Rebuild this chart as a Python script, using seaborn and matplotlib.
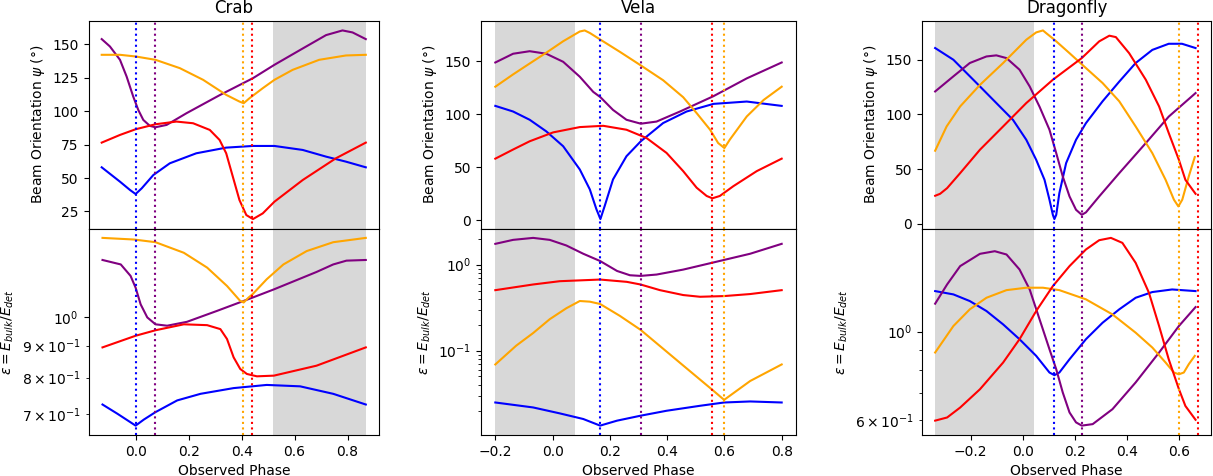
import matplotlib
matplotlib.use('Agg')
import matplotlib.pyplot as plt
import pandas as pd
import seaborn as sns

# (phase, value) pairs, one list per curve
# ---- Crab ----
crab_psi_blue = [(-0.128, 58), (-0.059, 47.25), (-0.021, 41), (0.0, 38), (0.023, 42.25),
                 (0.067, 52.25), (0.129, 61), (0.229, 68.5), (0.342, 72.75), (0.443, 74),
                 (0.524, 74), (0.631, 71), (0.719, 66), (0.794, 62.25), (0.869, 58)]
crab_psi_purple = [(-0.128, 154), (-0.097, 148.5), (-0.059, 138.5), (-0.034, 126), (-0.009, 111),
                   (0.01, 101), (0.029, 93.5), (0.054, 89), (0.075, 88), (0.117, 89.75),
                   (0.192, 98.5), (0.317, 112), (0.443, 124.75), (0.524, 134.75), (0.631, 147),
                   (0.719, 157), (0.781, 160.5), (0.819, 159), (0.869, 154)]
crab_psi_orange = [(-0.128, 142.25), (-0.059, 142.25), (0.0, 141), (0.075, 138.5), (0.167, 132.25),
                   (0.255, 123.5), (0.342, 112.25), (0.392, 107.25), (0.408, 106), (0.43, 109.75),
                   (0.48, 117.25), (0.524, 123.5), (0.593, 131), (0.693, 138.5), (0.794, 141.75),
                   (0.869, 142.25)]
crab_psi_red = [(-0.128, 76.5), (-0.059, 82.25), (0.0, 86.5), (0.075, 90.25), (0.154, 92.25),
                (0.217, 91), (0.28, 86), (0.317, 78.5), (0.342, 68.5), (0.367, 51), (0.392, 33.5),
                (0.418, 22.25), (0.443, 19.25), (0.48, 23.5), (0.524, 32.25), (0.631, 48.5),
                (0.756, 64.75), (0.869, 76.5)]
crab_eps_blue = [(-0.125, 0.725), (-0.069, 0.701), (0.0, 0.671), (0.031, 0.686), (0.075, 0.705),
                 (0.157, 0.736), (0.245, 0.754), (0.37, 0.77), (0.495, 0.779), (0.621, 0.775),
                 (0.746, 0.754), (0.869, 0.725)]
crab_eps_purple = [(-0.125, 1.232), (-0.056, 1.212), (-0.019, 1.162), (0.0, 1.113), (0.019, 1.047),
                   (0.044, 0.998), (0.075, 0.973), (0.119, 0.968), (0.194, 0.982), (0.307, 1.022),
                   (0.441, 1.073), (0.522, 1.106), (0.683, 1.179), (0.746, 1.212), (0.796, 1.229),
                   (0.869, 1.232)]
crab_eps_orange = [(-0.125, 1.336), (-0.006, 1.328), (0.075, 1.315), (0.182, 1.265), (0.27, 1.198),
                   (0.345, 1.12), (0.395, 1.06), (0.408, 1.054), (0.426, 1.073), (0.441, 1.086),
                   (0.495, 1.148), (0.558, 1.212), (0.646, 1.273), (0.746, 1.315), (0.869, 1.336)]
crab_eps_red = [(-0.125, 0.894), (0.0, 0.933), (0.075, 0.952), (0.182, 0.973), (0.27, 0.970),
                (0.32, 0.956), (0.345, 0.922), (0.37, 0.862), (0.395, 0.826), (0.42, 0.811),
                (0.458, 0.804), (0.522, 0.806), (0.683, 0.836), (0.869, 0.894)]
crab_marks = [0.0, 0.075, 0.407, 0.441]      # blue, purple, orange, red
crab_shade = (0.52, 0.869)

# ---- Vela ----
vela_psi_blue = [(-0.2, 107.8), (-0.138, 102.5), (-0.08, 94.7), (-0.022, 83.75), (0.037, 69.7),
                 (0.095, 47.8), (0.13, 29), (0.153, 10.3), (0.167, 1), (0.182, 13.4),
                 (0.211, 38.4), (0.258, 60.3), (0.308, 74.4), (0.386, 91.6), (0.468, 102.5),
                 (0.562, 109.7), (0.678, 111.9), (0.8, 107.8)]
vela_psi_purple = [(-0.2, 148.75), (-0.138, 157), (-0.08, 159.4), (-0.022, 157), (0.037, 149.4),
                   (0.095, 135.3), (0.142, 121), (0.167, 116), (0.211, 104), (0.258, 94.7),
                   (0.308, 91), (0.363, 93), (0.445, 102.5), (0.562, 117), (0.678, 133.75),
                   (0.8, 148.75)]
vela_psi_orange = [(-0.2, 125.9), (-0.138, 137.5), (-0.08, 147.8), (-0.022, 158), (0.037, 168.8),
                   (0.095, 178), (0.112, 179), (0.13, 176.6), (0.167, 170.3), (0.235, 158.8),
                   (0.308, 146), (0.386, 132), (0.456, 116), (0.503, 101), (0.55, 85.3),
                   (0.578, 72.8), (0.6, 68), (0.619, 76), (0.678, 97.8), (0.737, 113.4),
                   (0.8, 125.9)]
vela_psi_red = [(-0.2, 58), (-0.138, 66.6), (-0.08, 74.4), (0.002, 82.8), (0.095, 87.8),
                (0.177, 89), (0.258, 85.3), (0.328, 77.5), (0.398, 63.4), (0.456, 46.25),
                (0.503, 30.6), (0.538, 22.8), (0.558, 20.6), (0.584, 22.8), (0.631, 32),
                (0.713, 46.25), (0.8, 58)]
vela_eps_blue = [(-0.2, 0.0249), (-0.068, 0.0218), (0.025, 0.0186), (0.107, 0.016), (0.166, 0.0134),
                 (0.225, 0.0153), (0.307, 0.01747), (0.398, 0.01995), (0.515, 0.0228),
                 (0.599, 0.0249), (0.69, 0.0256), (0.8, 0.0249)]
vela_eps_purple = [(-0.2, 1.747), (-0.138, 1.943), (-0.068, 2.049), (-0.01, 1.943), (0.048, 1.672),
                   (0.107, 1.34), (0.166, 1.102), (0.225, 0.845), (0.27, 0.753), (0.307, 0.740),
                   (0.363, 0.767), (0.456, 0.876), (0.558, 1.054), (0.69, 1.34), (0.8, 1.747)]
vela_eps_orange = [(-0.2, 0.069), (-0.127, 0.1142), (-0.068, 0.16), (-0.01, 0.232), (0.048, 0.311),
                   (0.095, 0.3776), (0.13, 0.371), (0.166, 0.3486), (0.235, 0.2535), (0.307, 0.1747),
                   (0.398, 0.0974), (0.456, 0.0671), (0.558, 0.0349), (0.599, 0.0267),
                   (0.69, 0.0443), (0.8, 0.069)]
vela_eps_red = [(-0.2, 0.505), (-0.068, 0.588), (0.025, 0.642), (0.166, 0.671), (0.259, 0.631),
                (0.307, 0.588), (0.375, 0.505), (0.456, 0.443), (0.515, 0.423), (0.599, 0.431),
                (0.69, 0.455), (0.8, 0.505)]
vela_marks = [0.166, 0.307, 0.599, 0.558]
vela_shade = (-0.2, 0.077)

# ---- Dragonfly ----
dfly_psi_blue = [(-0.336, 160.7), (-0.266, 150), (-0.228, 140.9), (-0.164, 125.6), (-0.101, 110.4),
                 (-0.037, 95), (0.014, 76.8), (0.052, 58.5), (0.084, 40.2), (0.103, 22),
                 (0.116, 8.2), (0.122, 4.3), (0.129, 8.2), (0.141, 28), (0.167, 55.5),
                 (0.205, 76.8), (0.243, 92), (0.307, 112), (0.371, 130), (0.434, 147),
                 (0.498, 159), (0.561, 164.6), (0.612, 164.6), (0.664, 160.7)]
dfly_psi_purple = [(-0.336, 121), (-0.266, 134.8), (-0.203, 147), (-0.139, 153), (-0.101, 154),
                   (-0.062, 151.5), (-0.012, 140.9), (0.027, 125.6), (0.065, 107), (0.103, 86),
                   (0.129, 64.6), (0.154, 43.3), (0.18, 25), (0.205, 12.8), (0.227, 8.2),
                   (0.243, 10.4), (0.294, 25), (0.371, 46.3), (0.473, 73.8), (0.561, 98),
                   (0.664, 119.5)]
dfly_psi_orange = [(-0.336, 66.8), (-0.292, 89), (-0.24, 107.3), (-0.164, 127), (-0.075, 147),
                   (0.014, 168.3), (0.052, 175), (0.078, 176.8), (0.09, 174.4), (0.122, 168.3),
                   (0.18, 156), (0.243, 142.4), (0.307, 128.7), (0.371, 112), (0.434, 89),
                   (0.498, 64.6), (0.549, 40.2), (0.581, 22), (0.598, 15.9), (0.613, 22),
                   (0.638, 43.3), (0.661, 61)]
dfly_psi_red = [(-0.336, 25.6), (-0.317, 27.4), (-0.29, 32.6), (-0.24, 46.3), (-0.164, 67.7),
                (-0.075, 89), (0.014, 110.4), (0.116, 131.7), (0.227, 151.5), (0.294, 166.8),
                (0.333, 172), (0.358, 170.7), (0.409, 156), (0.473, 131.7), (0.524, 107.3),
                (0.561, 83), (0.6, 58.5), (0.625, 40.2), (0.664, 27.4)]
dfly_eps_blue = [(-0.336, 1.265), (-0.266, 1.241), (-0.203, 1.194), (-0.139, 1.127),
                 (-0.075, 1.043), (-0.012, 0.957), (0.052, 0.869), (0.103, 0.789), (0.122, 0.777),
                 (0.141, 0.789), (0.18, 0.852), (0.243, 0.957), (0.307, 1.053), (0.371, 1.138),
                 (0.434, 1.217), (0.498, 1.258), (0.574, 1.277), (0.664, 1.265)]
dfly_eps_purple = [(-0.336, 1.176), (-0.29, 1.315), (-0.24, 1.462), (-0.164, 1.57), (-0.107, 1.594),
                   (-0.062, 1.564), (-0.012, 1.434), (0.027, 1.277), (0.065, 1.074), (0.103, 0.903),
                   (0.129, 0.804), (0.154, 0.703), (0.18, 0.626), (0.205, 0.591), (0.227, 0.58),
                   (0.269, 0.585), (0.345, 0.638), (0.434, 0.745), (0.524, 0.886), (0.6, 1.033),
                   (0.664, 1.153)]
dfly_eps_orange = [(-0.336, 0.886), (-0.266, 1.033), (-0.203, 1.138), (-0.139, 1.217),
                   (-0.062, 1.272), (0.014, 1.29), (0.078, 1.29), (0.141, 1.272), (0.243, 1.206),
                   (0.345, 1.105), (0.434, 0.994), (0.498, 0.912), (0.549, 0.836), (0.581, 0.789),
                   (0.6, 0.781), (0.619, 0.789), (0.638, 0.828), (0.661, 0.869)]
dfly_eps_red = [(-0.336, 0.597), (-0.29, 0.608), (-0.24, 0.644), (-0.164, 0.716), (-0.075, 0.836),
                (-0.012, 0.957), (0.052, 1.127), (0.116, 1.302), (0.18, 1.462), (0.243, 1.61),
                (0.294, 1.699), (0.339, 1.722), (0.383, 1.673), (0.434, 1.49), (0.485, 1.253),
                (0.524, 1.033), (0.561, 0.852), (0.6, 0.717), (0.625, 0.65), (0.664, 0.6)]
dfly_marks = [0.122, 0.228, 0.6, 0.674]
dfly_shade = (-0.336, 0.042)

colors = ['blue', 'purple', 'orange', 'red']
names = ['Crab', 'Vela', 'Dragonfly']
psi_curves = [[crab_psi_blue, crab_psi_purple, crab_psi_orange, crab_psi_red],
              [vela_psi_blue, vela_psi_purple, vela_psi_orange, vela_psi_red],
              [dfly_psi_blue, dfly_psi_purple, dfly_psi_orange, dfly_psi_red]]
eps_curves = [[crab_eps_blue, crab_eps_purple, crab_eps_orange, crab_eps_red],
              [vela_eps_blue, vela_eps_purple, vela_eps_orange, vela_eps_red],
              [dfly_eps_blue, dfly_eps_purple, dfly_eps_orange, dfly_eps_red]]
marks = [crab_marks, vela_marks, dfly_marks]
shades = [crab_shade, vela_shade, dfly_shade]

W, H = 1213, 476
fig = plt.figure(figsize=(W / 100, H / 100), dpi=100)
# axes boxes in pixels: left, right
cols = [(88.5, 379), (481, 796), (922, 1211.3)]
top_px, mid_px, bot_px = 21, 228.5, 435


def curve_df(pts):
    return pd.DataFrame(pts, columns=['phase', 'value'])


for i, name in enumerate(names):
    l, r = cols[i]
    ax1 = fig.add_axes([l / W, 1 - mid_px / H, (r - l) / W, (mid_px - top_px) / H])
    ax2 = fig.add_axes([l / W, 1 - bot_px / H, (r - l) / W, (bot_px - mid_px) / H], sharex=ax1)

    for ax, curves in ((ax1, psi_curves[i]), (ax2, eps_curves[i])):
        ax.axvspan(shades[i][0], shades[i][1], color='grey', alpha=0.3, lw=0)
        for c, pts in zip(colors, curves):
            sns.lineplot(data=curve_df(pts), x='phase', y='value', color=c, lw=1.5, ax=ax)
        for c, m in zip(colors, marks[i]):
            ax.axvline(m, color=c, ls=':', lw=1.5)

    ax2.set_yscale('log')
    ax1.set_title(name, fontsize=12)
    ax1.set_ylabel(r'Beam Orientation $\psi$ (°)')
    ax1.set_xlabel('')
    ax1.tick_params(labelbottom=False)
    ax2.set_ylabel(r'$\epsilon = E_{bulk}/E_{det}$')
    ax2.set_xlabel('Observed Phase')

fig.savefig('out.png', dpi=100)
